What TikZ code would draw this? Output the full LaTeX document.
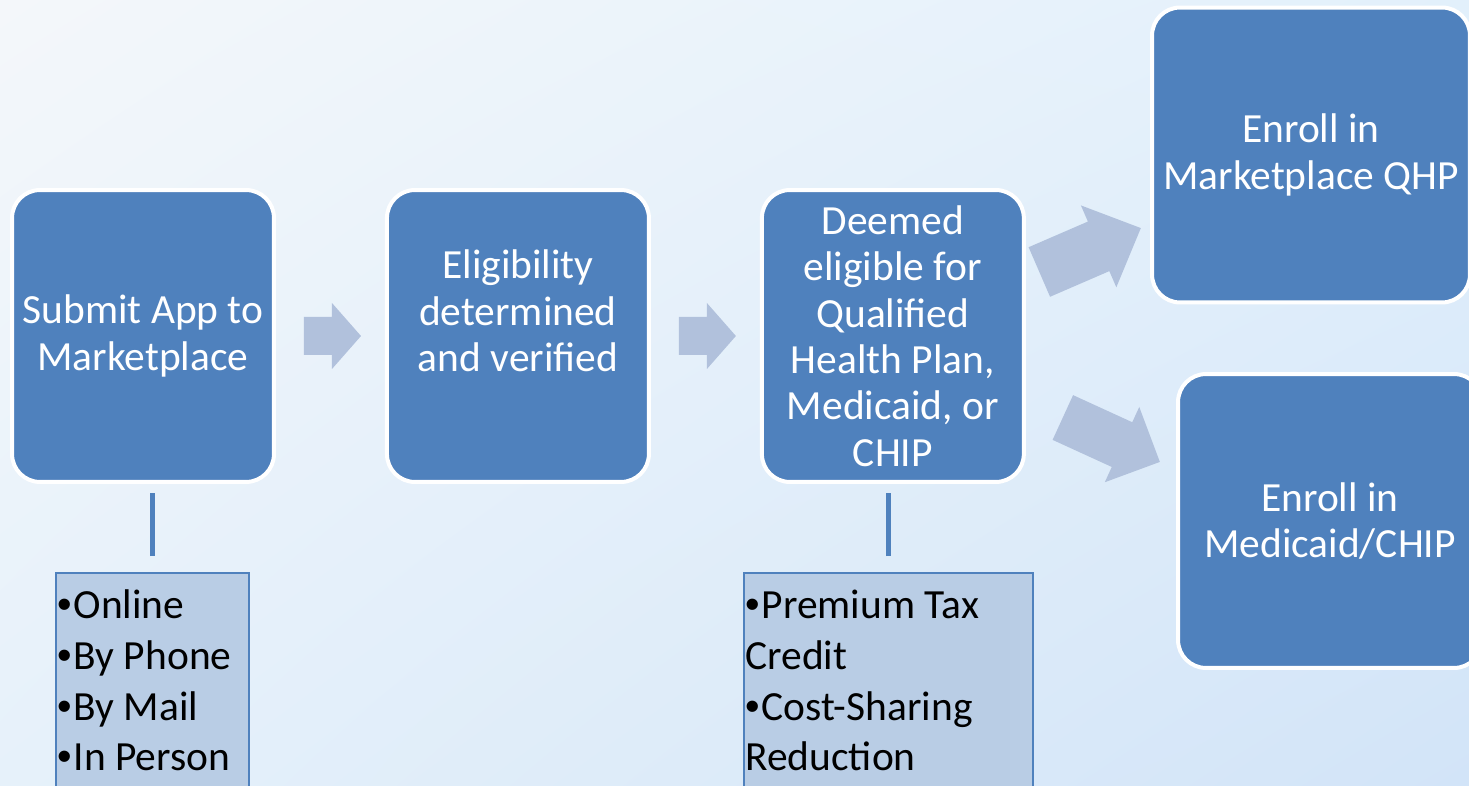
\documentclass[tikz,border=0pt]{standalone}
\usepackage{fontspec}
\setmainfont{Carlito}
\newfontfamily\bulletfont{Liberation Sans}
\usetikzlibrary{positioning,calc,shadings}
\definecolor{boxblue}{HTML}{4F81BD}
\definecolor{listblue}{HTML}{B9CDE5}
\definecolor{arrowgrey}{HTML}{B1C1DC}
\definecolor{bgUL}{HTML}{F4F7FA}
\definecolor{bgUR}{HTML}{E2F0FB}
\definecolor{bgLL}{HTML}{E6F1FA}
\definecolor{bgLR}{HTML}{D2E4F8}
\tikzset{
	stepbox/.style={draw=white, line width=0.08cm, fill=boxblue, rounded corners=0.56cm,
		text=white, align=center, inner sep=0pt, minimum width=5.24cm, minimum height=5.84cm,
		font=\fontsize{23.6}{26.4}\selectfont},
	listbox/.style={draw=boxblue, line width=0.035cm, fill=listblue, anchor=north west,
		align=flush left, inner xsep=0.03cm, inner ysep=0pt, font=\fontsize{23.6}{28.9}\selectfont},
	stem/.style={draw=boxblue, line width=0.1cm},
	arrowbody/.style={fill=arrowgrey}
}
\newcommand{\lbul}{{\bulletfont •}\hspace{1pt}}
% block arrow: base, angle, length, shaft half width, head half width, head length
\newcommand{\blockarrow}[6]{%
	\begin{scope}[shift={#1}, rotate=#2]
		\fill[arrowbody] (0,-#4) -- ({#3-#6},-#4) -- ({#3-#6},-#5) -- (#3,0)
			-- ({#3-#6},#5) -- ({#3-#6},#4) -- (0,#4) -- cycle;
	\end{scope}}

\begin{document}
\begin{tikzpicture}[x=0.02cm, y=-0.02cm]
	\useasboundingbox (0,0) rectangle (1469,786);
	\clip (0,0) rectangle (1469,786);
	\shade[upper left=bgUL, upper right=bgUR, lower left=bgLL, lower right=bgLR] (0,0) rectangle (1469,786);

	%Etapes
	\node[stepbox] (submit) at (143,336) {Submit App to\\Marketplace};
	\node[stepbox, right=2.18cm of submit] (elig) {Eligibility\\determined\\and verified\\[-5.6pt]\strut};
	\node[stepbox, right=2.18cm of elig] (deemed) {Deemed\\eligible for\\Qualified\\Health Plan,\\Medicaid, or\\CHIP};
	\node[stepbox, minimum width=6.36cm, minimum height=5.9cm] (qhp) at (1311,155) {Enroll in\\Marketplace QHP};
	\node[stepbox, minimum width=6.08cm, minimum height=5.88cm] (medicaid) at (1330,521) {Enroll in\\Medicaid/CHIP};

	%Listes
	\node[listbox, text width=3.8cm] (modes) at (55,572)
		{\rule{0pt}{26pt}\lbul Online\\\lbul By Phone\\\lbul By Mail\\\lbul In Person\rule[-30pt]{0pt}{30pt}};
	\node[listbox, text width=5.72cm] (credits) at (743,572)
		{\rule{0pt}{26pt}\lbul Premium Tax\\Credit\\\lbul Cost-Sharing\\Reduction\rule[-30pt]{0pt}{30pt}};

	\draw[stem] ($(modes.north)+(0,-16)$) -- ($(modes.north |- submit.south)+(0,9)$);
	\draw[stem] ($(credits.north)+(0,-16)$) -- ($(credits.north |- deemed.south)+(0,9)$);

	%Fleches
	\blockarrow{($(submit.east)+(28,0)$)}{0}{57}{19}{33}{29}
	\blockarrow{($(elig.east)+(28,0)$)}{0}{57}{19}{33}{29}
	\blockarrow{($(deemed.east)+(13.5,-64)$)}{23.4}{110.6}{27}{44.6}{46}
	\blockarrow{($(deemed.east)+(37,81.5)$)}{-24.6}{106.7}{24.6}{41.4}{41.6}
\end{tikzpicture}
\end{document}
